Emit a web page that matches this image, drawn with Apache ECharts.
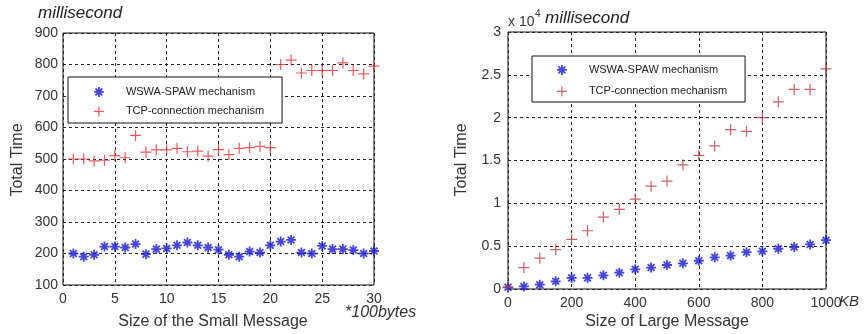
<!DOCTYPE html>
<html>
<head>
<meta charset="utf-8">
<script src="https://cdn.jsdelivr.net/npm/echarts@6/dist/echarts.min.js"></script>
<style>
html, body { margin: 0; padding: 0; background: #fff; }
#chart { width: 867px; height: 334px; }
</style>
</head>
<body>
<div id="chart"></div>
<script>
// Small messages: size in units of 100 bytes, total time in ms
const smallSizes = [1, 2, 3, 4, 5, 6, 7, 8, 9, 10, 11, 12, 13, 14, 15,
                    16, 17, 18, 19, 20, 21, 22, 23, 24, 25, 26, 27, 28, 29, 30];
const smallWswa = [200, 190, 196, 222, 222, 219, 230, 198, 214, 216, 226, 235, 226, 219, 212,
                   196, 190, 206, 203, 226, 238, 243, 203, 200, 224, 214, 214, 211, 200, 208];
const smallTcp = [500, 500, 494, 496, 511, 504, 575, 522, 529, 529, 534, 523, 525, 509, 530,
                  514, 534, 536, 540, 536, 800, 814, 773, 781, 781, 781, 805, 781, 770, 795];

// Large messages: size in KB, total time in ms
const largeSizes = [0, 50, 100, 150, 200, 250, 300, 350, 400, 450, 500,
                    550, 600, 650, 700, 750, 800, 850, 900, 950, 1000];
const largeWswa = [200, 300, 500, 900, 1300, 1300, 1600, 1900, 2300, 2500, 2800,
                   3000, 3300, 3700, 3900, 4300, 4400, 4700, 4900, 5200, 5700];
const largeTcp = [200, 2500, 3600, 4600, 5800, 6800, 8400, 9300, 10500, 12000, 12600,
                  14500, 15600, 16700, 18600, 18400, 20000, 21850, 23300, 23300, 25700];

// Axis ranges and tick labels
const smallXTicks = [0, 5, 10, 15, 20, 25, 30];
const smallYTicks = [100, 200, 300, 400, 500, 600, 700, 800, 900];
const largeXTicks = [0, 200, 400, 600, 800, 1000];
const largeYTicks = ['0', '0.5', '1', '1.5', '2', '2.5', '3'];
const largeYScale = 10000; // right-hand axis reads in units of 10^4 ms

const NAME_WSWA = 'WSWA-SPAW mechanism';
const NAME_TCP = 'TCP-connection mechanism';

const PLUS = 'path://M0,5L10,5M5,0L5,10';
const STAR = 'path://M0,5L10,5M5,0L5,10M1.6,1.6L8.4,8.4M8.4,1.6L1.6,8.4';

const BLUE = '#1616d0';
const RED_L = '#e8323a';
const RED_R = '#b83a40';
const FONT = 'Arial, "Liberation Sans", Helvetica, sans-serif';

const pairs = (xs, ys, k) => xs.map((x, i) => [x, ys[i] / (k || 1)]);

const gridLine = { show: true, lineStyle: { color: '#222', width: 1, type: [3, 3] } };
const tickLabel = { color: '#333', fontSize: 14, fontFamily: FONT };

function legendBox(left, top, itemGap, pad, redColor) {
  return {
    left: left, top: top, orient: 'vertical',
    backgroundColor: '#fff', borderColor: '#111', borderWidth: 1,
    padding: pad, itemGap: itemGap, itemWidth: 44, itemHeight: 10,
    selectedMode: false,
    textStyle: { color: '#222', fontSize: 11, fontFamily: FONT },
    data: [
      { name: NAME_WSWA, icon: STAR,
        itemStyle: { color: 'transparent', borderColor: BLUE, borderWidth: 1.8 } },
      { name: NAME_TCP, icon: PLUS,
        itemStyle: { color: 'transparent', borderColor: redColor, borderWidth: 1.2 } }
    ]
  };
}

const chart = echarts.init(document.getElementById('chart'), null, { renderer: 'canvas' });

chart.setOption({
  animation: false,
  backgroundColor: '#fff',
  grid: [
    { left: 63, top: 33, width: 311, height: 252, show: true, borderColor: '#111', borderWidth: 1, backgroundColor: 'transparent' },
    { left: 508, top: 32, width: 318, height: 257, show: true, borderColor: '#111', borderWidth: 1, backgroundColor: 'transparent' }
  ],
  xAxis: [
    { gridIndex: 0, type: 'value', min: smallXTicks[0], max: smallXTicks[smallXTicks.length - 1], interval: 5,
      axisLine: { show: false }, axisTick: { show: false }, splitLine: gridLine,
      axisLabel: Object.assign({ margin: 7 }, tickLabel) },
    { gridIndex: 1, type: 'value', min: largeXTicks[0], max: largeXTicks[largeXTicks.length - 1], interval: 200,
      axisLine: { show: false }, axisTick: { show: false }, splitLine: gridLine,
      axisLabel: Object.assign({ margin: 7, formatter: (v) => String(v) }, tickLabel) }
  ],
  yAxis: [
    { gridIndex: 0, type: 'value', min: smallYTicks[0], max: smallYTicks[smallYTicks.length - 1], interval: 100,
      axisLine: { show: false }, axisTick: { show: false }, splitLine: gridLine,
      axisLabel: Object.assign({ margin: 5 }, tickLabel) },
    { gridIndex: 1, type: 'value', min: 0, max: 3, interval: 0.5,
      axisLine: { show: false }, axisTick: { show: false }, splitLine: gridLine,
      axisLabel: Object.assign({ margin: 7, formatter: (v) => largeYTicks[Math.round(v * 2)] }, tickLabel) }
  ],
  legend: [
    legendBox(68, 77, 8, [9, 18, 6, 25], RED_L),
    legendBox(532, 56, 10, [8, 18, 5, 24], RED_R)
  ],
  series: [
    { name: NAME_WSWA, type: 'scatter', xAxisIndex: 0, yAxisIndex: 0, symbol: STAR, symbolSize: 10,
      itemStyle: { color: 'transparent', borderColor: BLUE, borderWidth: 1.8 },
      data: pairs(smallSizes, smallWswa) },
    { name: NAME_TCP, type: 'scatter', xAxisIndex: 0, yAxisIndex: 0, symbol: PLUS, symbolSize: 11,
      itemStyle: { color: 'transparent', borderColor: RED_L, borderWidth: 1.2 },
      data: pairs(smallSizes, smallTcp) },
    { name: NAME_WSWA, type: 'scatter', xAxisIndex: 1, yAxisIndex: 1, symbol: STAR, symbolSize: 10,
      itemStyle: { color: 'transparent', borderColor: BLUE, borderWidth: 1.8 },
      data: pairs(largeSizes, largeWswa, largeYScale) },
    { name: NAME_TCP, type: 'scatter', xAxisIndex: 1, yAxisIndex: 1, symbol: PLUS, symbolSize: 11,
      itemStyle: { color: 'transparent', borderColor: RED_R, borderWidth: 1.2 },
      data: pairs(largeSizes, largeTcp, largeYScale) }
  ],
  graphic: [
    { type: 'text', left: 38, top: 5,
      style: { text: 'millisecond', font: 'italic 17px ' + FONT, fill: '#222' } },
    { type: 'text', x: 18, y: 160, rotation: Math.PI / 2,
      style: { text: 'Total Time', font: '16px ' + FONT, fill: '#333', align: 'center', verticalAlign: 'middle' } },
    { type: 'text', x: 213, y: 322,
      style: { text: 'Size of the Small Message', font: '16px ' + FONT, fill: '#333', align: 'center', verticalAlign: 'middle' } },
    { type: 'text', x: 345, y: 313,
      style: { text: '*100bytes', font: 'italic 16px ' + FONT, fill: '#333', verticalAlign: 'middle' } },

    { type: 'text', x: 508, y: 22,
      style: { text: 'x 10', font: '14px ' + FONT, fill: '#333', verticalAlign: 'middle' } },
    { type: 'text', x: 535, y: 14,
      style: { text: '4', font: '10px ' + FONT, fill: '#333', verticalAlign: 'middle' } },
    { type: 'text', x: 545, y: 18,
      style: { text: 'millisecond', font: 'italic 17px ' + FONT, fill: '#222', verticalAlign: 'middle' } },
    { type: 'text', x: 462, y: 160, rotation: Math.PI / 2,
      style: { text: 'Total Time', font: '16px ' + FONT, fill: '#333', align: 'center', verticalAlign: 'middle' } },
    { type: 'text', x: 667, y: 322,
      style: { text: 'Size of Large Message', font: '16px ' + FONT, fill: '#333', align: 'center', verticalAlign: 'middle' } },
    { type: 'text', x: 839, y: 302,
      style: { text: 'KB', font: 'italic 15px ' + FONT, fill: '#333', verticalAlign: 'middle' } }
  ]
});
</script>
</body>
</html>
